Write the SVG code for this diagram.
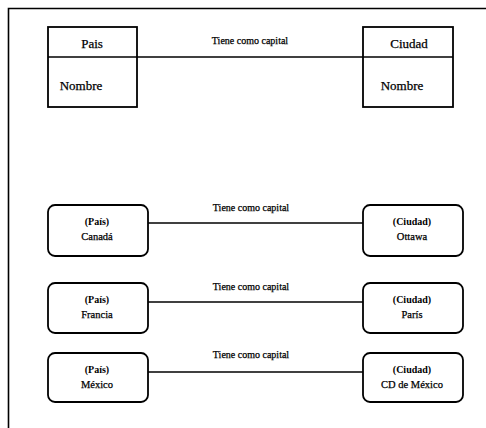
<svg xmlns="http://www.w3.org/2000/svg" width="486" height="428" viewBox="0 0 486 428">
  <style>
    .frame { fill: none; stroke: #000; stroke-width: 1.6; }
    .box { fill: #fff; stroke: #000; stroke-width: 1.8; }
    .link { fill: none; stroke: #000; stroke-width: 1.4; }
    .t { font-family: "Liberation Serif", "Times New Roman", serif; fill: #000; text-anchor: middle; stroke: #000; stroke-width: 0.25; }
    .head { font-size: 13px; }
    .lbl { font-size: 10px; }
    .inst { font-size: 10.5px; }
    .tag { font-size: 10px; font-weight: bold; stroke-width: 0; }
  </style>
  <rect width="486" height="428" fill="#fff"/>
  <!-- outer frame: top and left edges -->
  <path class="frame" d="M8.5 428 V8.5 H486"/>

  <!-- connectors -->
  <g id="connectors">
    <line class="link" x1="137" y1="57" x2="363" y2="57"/>
    <text class="t lbl" x="250" y="44">Tiene como capital</text>
    <line class="link" x1="148" y1="223" x2="363" y2="223"/>
    <text class="t lbl" x="251" y="211">Tiene como capital</text>
    <line class="link" x1="148" y1="302" x2="363" y2="302"/>
    <text class="t lbl" x="251" y="290">Tiene como capital</text>
    <line class="link" x1="148" y1="372" x2="363" y2="372"/>
    <text class="t lbl" x="251" y="358">Tiene como capital</text>
  </g>

  <!-- class boxes -->
  <g id="pais-class">
    <rect class="box" x="48" y="27" width="89" height="80"/>
    <line class="link" x1="48" y1="57" x2="137" y2="57"/>
    <text class="t head" x="92" y="48">Pais</text>
    <text class="t head" x="81" y="90">Nombre</text>
  </g>
  <g id="ciudad-class">
    <rect class="box" x="363" y="27" width="90" height="80"/>
    <line class="link" x1="363" y1="57" x2="453" y2="57"/>
    <text class="t head" x="409" y="48">Ciudad</text>
    <text class="t head" x="402" y="90">Nombre</text>
  </g>

  <!-- instance boxes -->
  <g id="canada">
    <rect class="box" x="48" y="205" width="100" height="51" rx="7"/>
    <text class="t tag" x="97" y="225">(País)</text>
    <text class="t inst" x="97" y="240">Canadá</text>
  </g>
  <g id="ottawa">
    <rect class="box" x="363" y="205" width="100" height="51" rx="7"/>
    <text class="t tag" x="412" y="225">(Ciudad)</text>
    <text class="t inst" x="412" y="240">Ottawa</text>
  </g>
  <g id="francia">
    <rect class="box" x="48" y="283" width="100" height="50" rx="7"/>
    <text class="t tag" x="97" y="303">(País)</text>
    <text class="t inst" x="97" y="318">Francia</text>
  </g>
  <g id="paris">
    <rect class="box" x="363" y="283" width="100" height="50" rx="7"/>
    <text class="t tag" x="412" y="303">(Ciudad)</text>
    <text class="t inst" x="412" y="318">París</text>
  </g>
  <g id="mexico">
    <rect class="box" x="48" y="353" width="100" height="49" rx="7"/>
    <text class="t tag" x="97" y="373">(País)</text>
    <text class="t inst" x="97" y="388">México</text>
  </g>
  <g id="cd-mexico">
    <rect class="box" x="363" y="353" width="100" height="49" rx="7"/>
    <text class="t tag" x="412" y="373">(Ciudad)</text>
    <text class="t inst" x="412" y="388">CD de México</text>
  </g>
</svg>
